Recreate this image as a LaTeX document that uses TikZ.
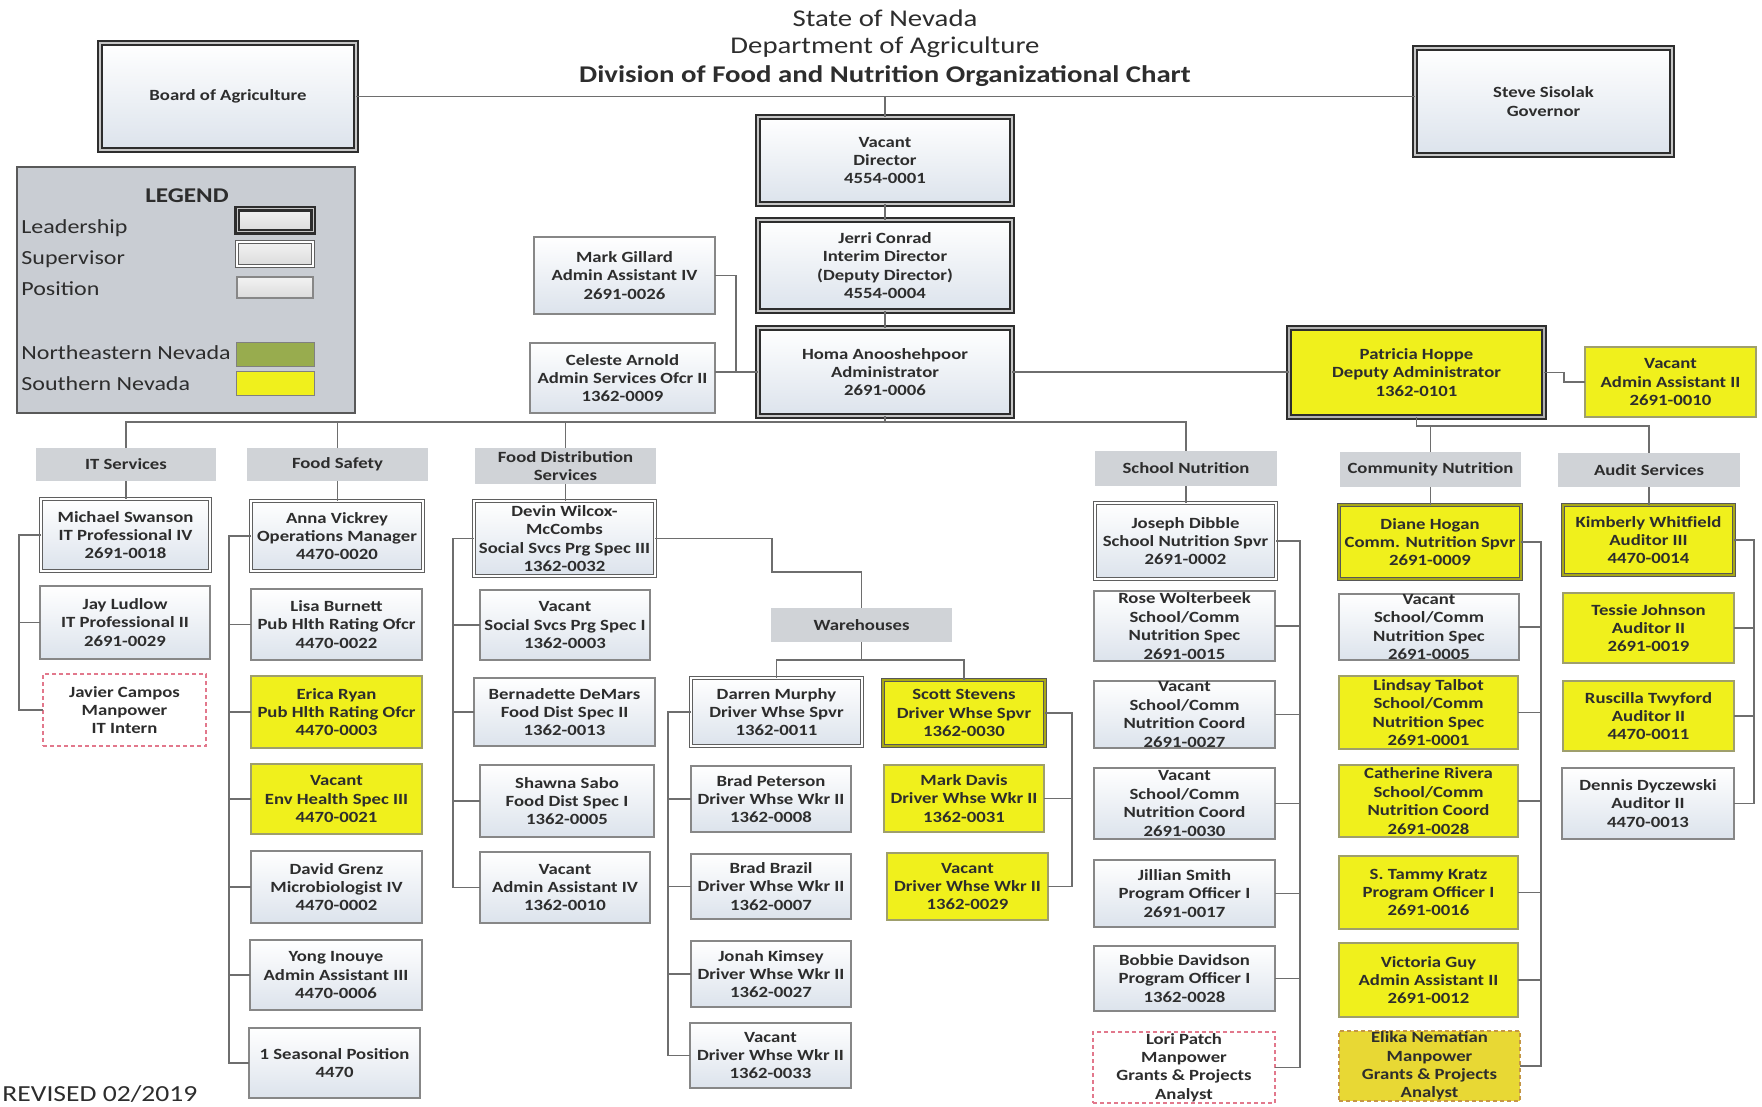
\documentclass[tikz,border=0pt]{standalone}
\usepackage{fontspec}
\setmainfont{Carlito}[FakeStretch=1.2]
\newfontfamily\titlefont{Carlito}[FakeStretch=1.2]

\definecolor{boxbot}{RGB}{220,227,236}
\definecolor{leadc}{RGB}{45,45,45}
\definecolor{supc}{RGB}{95,95,95}
\definecolor{posc}{RGB}{135,135,135}
\definecolor{linec}{RGB}{110,110,110}
\definecolor{yel}{RGB}{240,240,28}
\definecolor{yeld}{RGB}{232,216,52}
\definecolor{hdrc}{RGB}{208,211,215}
\definecolor{legc}{RGB}{201,205,211}
\definecolor{negreen}{RGB}{152,172,78}
\definecolor{pinkd}{RGB}{226,120,140}
\definecolor{dashy}{RGB}{196,150,70}
\definecolor{txt}{RGB}{45,45,45}

\newcommand\bxfont{\fontsize{7.8}{9.2}\selectfont\bfseries}
\newcommand\legfont{\fontsize{10}{12}\selectfont}
\newcommand\ttlfont{\titlefont\fontsize{12}{14}\selectfont}

\tikzset{
  base/.style={inner sep=0pt, outer sep=0pt, align=center, font=\bxfont, text=txt},
  wfill/.style={top color=white, bottom color=boxbot},
  gfill/.style={top color=gray!10, bottom color=gray!28},
  yfill/.style={fill=yel},
  leader/.style={base, wfill, draw=leadc, line width=1pt, double=gray!45, double distance=0.9pt},
  leadery/.style={base, yfill, draw=leadc, line width=1pt, double=gray!60, double distance=0.9pt},
  sup/.style={base, wfill, draw=supc, line width=0.6pt, double=white, double distance=0.9pt},
  supy/.style={base, yfill, draw=leadc!80, line width=0.6pt, double=yel!70!black, double distance=0.7pt},
  posbox/.style={base, wfill, draw=posc, line width=0.7pt},
  posy/.style={base, yfill, draw=posc!80!yellow, line width=0.7pt},
  dashpink/.style={base, fill=white, draw=pinkd, line width=0.6pt, dash pattern=on 2pt off 1.5pt},
  dashyel/.style={base, fill=yeld, draw=dashy, line width=0.6pt, dash pattern=on 2pt off 1.5pt},
  hdr/.style={base, fill=hdrc},
  conn/.style={draw=linec, line width=0.8pt},
}

% name, style, x1, y1, x2, y2, text  (pixel coordinates, y downward)
\newcommand\bx[7]{\node[#2, minimum width={(#5-#3)*0.5pt}, minimum height={(#6-#4)*0.5pt}] (#1) at ({(#3+#5)/2},{(#4+#6)/2}) {#7};}

\begin{document}
\begin{tikzpicture}[x=0.5pt, y=-0.5pt]
\useasboundingbox[fill=white] (0,0) rectangle (1762,1107);

% ---------- title ----------
\node[font=\ttlfont, text=txt] (t1) at (885,18) {State of Nevada};
\node[font=\ttlfont, text=txt] (t2) at (885,47) {Department of Agriculture};
\node[font=\ttlfont\bfseries, text=txt] (t3) at (885,76) {Division of Food and Nutrition Organizational Chart};

% ---------- top boxes ----------
\bx{board}{leader}{100}{43}{356}{150}{Board of Agriculture}
\bx{gov}{leader}{1415}{48}{1672}{155}{Steve Sisolak\\Governor}
\bx{director}{leader}{758}{117}{1012}{204}{Vacant\\Director\\4554-0001}
\bx{jerri}{leader}{758}{220}{1012}{311}{Jerri Conrad\\Interim Director\\(Deputy Director)\\4554-0004}
\bx{homa}{leader}{758}{328}{1012}{416}{Homa Anooshehpoor\\Administrator\\2691-0006}
\bx{mark}{posbox}{534}{237}{715}{314}{Mark Gillard\\Admin Assistant IV\\2691-0026}
\bx{celeste}{posbox}{530}{343}{715}{413}{Celeste Arnold\\Admin Services Ofcr II\\1362-0009}
\bx{patricia}{leadery}{1289}{328}{1544}{417}{Patricia Hoppe\\Deputy Administrator\\1362-0101}
\bx{vacaa2}{posy}{1585}{347}{1756}{417}{Vacant\\Admin Assistant II\\2691-0010}

% ---------- legend ----------
\bx{legend}{base, fill=legc, draw=gray!70!black, line width=0.9pt}{17}{167}{355}{413}{}
\node[font=\fontsize{10.5}{12}\selectfont\bfseries, text=txt] (leghd) at (187,196) {LEGEND};
\node[anchor=west, font=\legfont, text=txt, inner sep=0pt] (l1) at (21,228) {Leadership};
\node[anchor=west, font=\legfont, text=txt, inner sep=0pt] (l2) at (21,259) {Supervisor};
\node[anchor=west, font=\legfont, text=txt, inner sep=0pt] (l3) at (21,289) {Position};
\node[anchor=west, font=\legfont, text=txt, inner sep=0pt] (l4) at (21,353) {Northeastern Nevada};
\node[anchor=west, font=\legfont, text=txt, inner sep=0pt] (l5) at (21,384) {Southern Nevada};
\bx{s1}{leader, line width=1.1pt, double distance=0.5pt, gfill}{237}{209}{313}{232}{}
\bx{s2}{sup, gfill}{237}{242}{313}{266}{}
\bx{s3}{posbox, gfill}{237}{277}{313}{298}{}
\bx{s4}{base, fill=negreen, draw=gray, line width=0.5pt}{236}{343}{314}{366}{}
\bx{s5}{base, fill=yel, draw=gray, line width=0.5pt}{236}{371}{314}{395}{}

% ---------- section headers ----------
\bx{ithdr}{hdr}{36}{448}{216}{481}{IT Services}
\bx{fshdr}{hdr}{247}{448}{428}{481}{Food Safety}
\bx{fdhdr}{hdr}{475}{448}{656}{484}{Food Distribution\\Services}
\bx{whhdr}{hdr}{771}{608}{952}{642}{Warehouses}
\bx{schdr}{hdr}{1095}{451}{1277}{486}{School Nutrition}
\bx{cnhdr}{hdr}{1340}{452}{1521}{487}{Community Nutrition}
\bx{auhdr}{hdr}{1558}{453}{1740}{487}{Audit Services}

% ---------- IT Services ----------
\bx{mike}{sup}{41}{499}{210}{571}{Michael Swanson\\IT Professional IV\\2691-0018}
\bx{jay}{posbox}{40}{586}{210}{659}{Jay Ludlow\\IT Professional II\\2691-0029}
\bx{javier}{dashpink}{43}{674}{206}{746}{Javier Campos\\Manpower\\IT Intern}

% ---------- Food Safety ----------
\bx{anna}{sup}{251}{501}{423}{571}{Anna Vickrey\\Operations Manager\\4470-0020}
\bx{lisa}{posbox}{251}{589}{422}{660}{Lisa Burnett\\Pub Hlth Rating Ofcr\\4470-0022}
\bx{erica}{posy}{251}{676}{422}{748}{Erica Ryan\\Pub Hlth Rating Ofcr\\4470-0003}
\bx{vacenv}{posy}{251}{764}{422}{834}{Vacant\\Env Health Spec III\\4470-0021}
\bx{david}{posbox}{251}{851}{422}{923}{David Grenz\\Microbiologist IV\\4470-0002}
\bx{yong}{posbox}{250}{940}{422}{1010}{Yong Inouye\\Admin Assistant III\\4470-0006}
\bx{seasonal}{posbox}{249}{1028}{420}{1098}{1 Seasonal Position\\4470}

% ---------- Food Distribution ----------
\bx{devin}{sup}{474}{501}{655}{576}{Devin Wilcox-\\McCombs\\Social Svcs Prg Spec III\\1362-0032}
\bx{vacssp}{posbox}{480}{590}{650}{660}{Vacant\\Social Svcs Prg Spec I\\1362-0003}
\bx{bern}{posbox}{474}{678}{655}{746}{Bernadette DeMars\\Food Dist Spec II\\1362-0013}
\bx{shawna}{posbox}{480}{765}{654}{837}{Shawna Sabo\\Food Dist Spec I\\1362-0005}
\bx{vacaa4}{posbox}{480}{852}{650}{923}{Vacant\\Admin Assistant IV\\1362-0010}

% ---------- Warehouses ----------
\bx{darren}{sup}{691}{678}{862}{746}{Darren Murphy\\Driver Whse Spvr\\1362-0011}
\bx{scott}{supy}{883}{680}{1045}{746}{Scott Stevens\\Driver Whse Spvr\\1362-0030}
\bx{bradp}{posbox}{691}{766}{851}{832}{Brad Peterson\\Driver Whse Wkr II\\1362-0008}
\bx{bradb}{posbox}{691}{854}{851}{919}{Brad Brazil\\Driver Whse Wkr II\\1362-0007}
\bx{jonah}{posbox}{691}{941}{851}{1007}{Jonah Kimsey\\Driver Whse Wkr II\\1362-0027}
\bx{vacthree}{posbox}{690}{1023}{851}{1088}{Vacant\\Driver Whse Wkr II\\1362-0033}
\bx{markd}{posy}{884}{765}{1044}{832}{Mark Davis\\Driver Whse Wkr II\\1362-0031}
\bx{vactwonine}{posy}{887}{853}{1048}{920}{Vacant\\Driver Whse Wkr II\\1362-0029}

% ---------- School Nutrition ----------
\bx{joseph}{sup}{1095}{503}{1276}{579}{Joseph Dibble\\School Nutrition Spvr\\2691-0002}
\bx{rose}{posbox}{1094}{591}{1275}{661}{Rose Wolterbeek\\School/Comm\\Nutrition Spec\\2691-0015}
\bx{vacsa}{posbox}{1094}{681}{1275}{748}{Vacant\\School/Comm\\Nutrition Coord\\2691-0027}
\bx{vacsb}{posbox}{1094}{768}{1275}{839}{Vacant\\School/Comm\\Nutrition Coord\\2691-0030}
\bx{jillian}{posbox}{1094}{860}{1275}{927}{Jillian Smith\\Program Officer I\\2691-0017}
\bx{bobbie}{posbox}{1094}{946}{1275}{1011}{Bobbie Davidson\\Program Officer I\\1362-0028}
\bx{lori}{dashpink}{1093}{1032}{1275}{1103}{Lori Patch\\Manpower\\Grants \& Projects\\Analyst}

% ---------- Community Nutrition ----------
\bx{diane}{supy}{1339}{505}{1521}{579}{Diane Hogan\\Comm. Nutrition Spvr\\2691-0009}
\bx{vaccn}{posbox}{1339}{594}{1519}{660}{Vacant\\School/Comm\\Nutrition Spec\\2691-0005}
\bx{lindsay}{posy}{1339}{676}{1518}{749}{Lindsay Talbot\\School/Comm\\Nutrition Spec\\2691-0001}
\bx{cath}{posy}{1339}{765}{1518}{837}{Catherine Rivera\\School/Comm\\Nutrition Coord\\2691-0028}
\bx{tammy}{posy}{1339}{856}{1518}{929}{S. Tammy Kratz\\Program Officer I\\2691-0016}
\bx{victoria}{posy}{1339}{943}{1518}{1017}{Victoria Guy\\Admin Assistant II\\2691-0012}
\bx{elika}{dashyel}{1339}{1031}{1520}{1101}{Elika Nematian\\Manpower\\Grants \& Projects\\Analyst}

% ---------- Audit Services ----------
\bx{kim}{supy}{1563}{505}{1734}{575}{Kimberly Whitfield\\Auditor III\\4470-0014}
\bx{tessie}{posy}{1563}{593}{1734}{663}{Tessie Johnson\\Auditor II\\2691-0019}
\bx{rusc}{posy}{1563}{681}{1734}{751}{Ruscilla Twyford\\Auditor II\\4470-0011}
\bx{dennis}{posbox}{1562}{768}{1734}{839}{Dennis Dyczewski\\Auditor II\\4470-0013}

% ---------- revised ----------
\node[anchor=base west, inner sep=0pt, font=\fontsize{11.5}{13}\selectfont, text=txt] (rev) at (2,1101) {REVISED 02/2019};

% ---------- bus coordinates ----------
\coordinate (mb) at (0,422);
\coordinate (pb) at (0,426);
\coordinate (ab) at (736,372);
\coordinate (pv) at (1564,0);
\coordinate (itb) at (19,0);
\coordinate (fsb) at (229,0);
\coordinate (fdb) at (453,0);
\coordinate (w1) at (772,0);
\coordinate (w2) at (0,572);
\coordinate (wb) at (0,660);
\coordinate (drb) at (668,0);
\coordinate (scb) at (1072,0);
\coordinate (snb) at (1300,0);
\coordinate (cnb) at (1541,0);
\coordinate (aub) at (1754,0);

% ---------- connectors ----------
\draw[conn] (board.east) -- (board.east -| gov.west);
\draw[conn] (director.north) -- (director.north |- board.east);
\draw[conn] (director.south) -- (jerri.north);
\draw[conn] (jerri.south) -- (homa.north);
\draw[conn] (mark.east) -- (mark.east -| ab) -- (ab) -- (ab -| homa.west);
\draw[conn] (celeste.east |- ab) -- (ab);
\draw[conn] (homa.east) -- (homa.east -| patricia.west);
\draw[conn] (patricia.east) -- (patricia.east -| pv) -- (vacaa2.west -| pv) -- (vacaa2.west);

% main bus
\draw[conn] (homa.south) -- (homa.south |- mb);
\draw[conn] (ithdr.north) -- (ithdr.north |- mb) -- (schdr.north |- mb) -- (schdr.north);
\draw[conn] (fshdr.north) -- (fshdr.north |- mb);
\draw[conn] (fdhdr.north) -- (fdhdr.north |- mb);
% Patricia bus
\draw[conn] (patricia.south) -- (patricia.south |- pb) -- (auhdr.north |- pb) -- (auhdr.north);
\draw[conn] (cnhdr.north) -- (cnhdr.north |- pb);

% header to supervisor
\draw[conn] (ithdr.south) -- (ithdr.south |- mike.north);
\draw[conn] (fshdr.south) -- (fshdr.south |- anna.north);
\draw[conn] (fdhdr.south) -- (fdhdr.south |- devin.north);
\draw[conn] (schdr.south) -- (schdr.south |- joseph.north);
\draw[conn] (cnhdr.south) -- (cnhdr.south |- diane.north);
\draw[conn] (auhdr.south) -- (auhdr.south |- kim.north);

% IT
\draw[conn] (mike.west) -- (mike.west -| itb) -- (javier.west -| itb) -- (javier.west);
\draw[conn] (jay.west) -- (jay.west -| itb);
% Food Safety
\draw[conn] (anna.west) -- (anna.west -| fsb) -- (seasonal.west -| fsb) -- (seasonal.west);
\foreach \n in {lisa,erica,vacenv,david,yong} \draw[conn] (\n.west) -- (\n.west -| fsb);
% Food Distribution
\draw[conn] (devin.west) -- (devin.west -| fdb) -- (vacaa4.west -| fdb) -- (vacaa4.west);
\foreach \n in {vacssp,bern,shawna} \draw[conn] (\n.west) -- (\n.west -| fdb);
\draw[conn] (devin.east) -- (devin.east -| w1) -- (w1 |- w2) -- (w2 -| whhdr.north) -- (whhdr.north);
% Warehouses
\draw[conn] (whhdr.south) -- (whhdr.south |- wb);
\draw[conn] (darren.north) -- (darren.north |- wb) -- (scott.north |- wb) -- (scott.north);
\draw[conn] (darren.west) -- (darren.west -| drb) -- (vacthree.west -| drb) -- (vacthree.west);
\foreach \n in {bradp,bradb,jonah} \draw[conn] (\n.west) -- (\n.west -| drb);
\draw[conn] (scott.east) -- (scott.east -| scb) -- (vactwonine.east -| scb) -- (vactwonine.east);
\draw[conn] (markd.east) -- (markd.east -| scb);
% School Nutrition
\draw[conn] (joseph.east) -- (joseph.east -| snb) -- (lori.east -| snb) -- (lori.east);
\foreach \n in {rose,vacsa,vacsb,jillian,bobbie} \draw[conn] (\n.east) -- (\n.east -| snb);
% Community Nutrition
\draw[conn] (diane.east) -- (diane.east -| cnb) -- (elika.east -| cnb) -- (elika.east);
\foreach \n in {vaccn,lindsay,cath,tammy,victoria} \draw[conn] (\n.east) -- (\n.east -| cnb);
% Audit
\draw[conn] (kim.east) -- (kim.east -| aub) -- (dennis.east -| aub) -- (dennis.east);
\foreach \n in {tessie,rusc} \draw[conn] (\n.east) -- (\n.east -| aub);
\end{tikzpicture}
\end{document}
